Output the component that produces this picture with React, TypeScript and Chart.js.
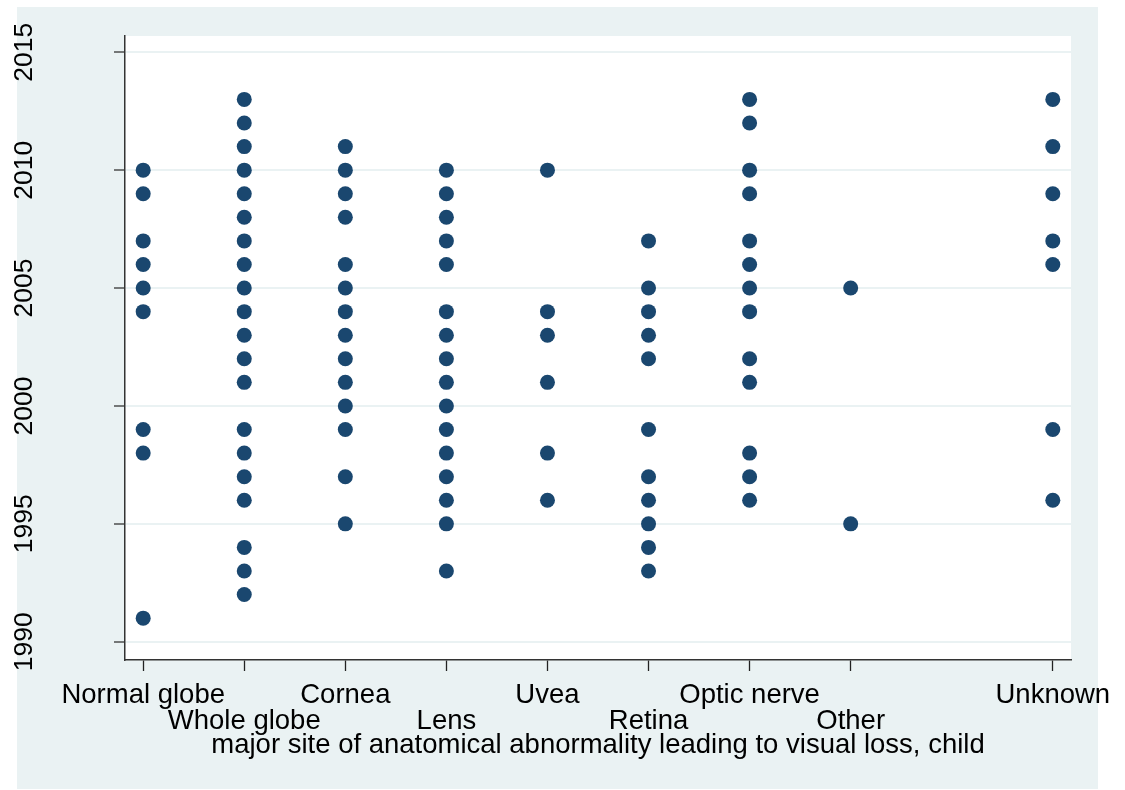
import React, { useEffect, useRef } from "react";
import { Chart, registerables } from "chart.js";

Chart.register(...registerables);

// ---- data ----
const categories = [
  "Normal globe",
  "Whole globe",
  "Cornea",
  "Lens",
  "Uvea",
  "Retina",
  "Optic nerve",
  "Other",
  "",
  "Unknown",
];
const xTickValues = [1, 2, 3, 4, 5, 6, 7, 8, 10];
const yTickValues = [1990, 1995, 2000, 2005, 2010, 2015];

const normalGlobe = [2010, 2009, 2007, 2006, 2005, 2004, 1999, 1998, 1991];
const wholeGlobe = [2013, 2012, 2011, 2010, 2009, 2008, 2007, 2006, 2005, 2004, 2003, 2002, 2001, 1999, 1998, 1997, 1996, 1994, 1993, 1992];
const cornea = [2011, 2010, 2009, 2008, 2006, 2005, 2004, 2003, 2002, 2001, 2000, 1999, 1997, 1995];
const lens = [2010, 2009, 2008, 2007, 2006, 2004, 2003, 2002, 2001, 2000, 1999, 1998, 1997, 1996, 1995, 1993];
const uvea = [2010, 2004, 2003, 2001, 1998, 1996];
const retina = [2007, 2005, 2004, 2003, 2002, 1999, 1997, 1996, 1995, 1994, 1993];
const opticNerve = [2013, 2012, 2010, 2009, 2007, 2006, 2005, 2004, 2002, 2001, 1998, 1997, 1996];
const other = [2005, 1995];
const unknown = [2013, 2011, 2009, 2007, 2006, 1999, 1996];

const siteCodes = [1, 2, 3, 4, 5, 6, 7, 8, 10];
const siteYears = [normalGlobe, wholeGlobe, cornea, lens, uvea, retina, opticNerve, other, unknown];

const xTitle = "major site of anatomical abnormality leading to visual loss, child";

const FONT = "'Liberation Sans', Arial, Helvetica, sans-serif";

const bgPlugin = {
  id: "stataBg",
  beforeDraw(chart: any) {
    const { ctx, chartArea, width, height } = chart;
    ctx.save();
    ctx.fillStyle = "#ffffff";
    ctx.fillRect(0, 0, width, height);
    ctx.fillStyle = "#eaf2f3";
    ctx.fillRect(17, 7, 1081, 782);
    ctx.fillStyle = "#ffffff";
    ctx.fillRect(chartArea.left, chartArea.top, chartArea.right - chartArea.left, chartArea.bottom - chartArea.top);
    ctx.restore();
  },
};

export default function App() {
  const ref = useRef<HTMLCanvasElement | null>(null);

  useEffect(() => {
    if (!ref.current) return;
    const points = siteCodes.flatMap((code, i) => siteYears[i].map((y) => ({ x: code, y })));
    const chart = new Chart(ref.current, {
      type: "scatter",
      data: {
        datasets: [
          {
            data: points,
            backgroundColor: "#1a476f",
            borderColor: "#1a476f",
            borderWidth: 0,
            pointRadius: 7.5,
            pointHoverRadius: 7.5,
          },
        ],
      },
      plugins: [bgPlugin],
      options: {
        animation: false,
        responsive: false,
        devicePixelRatio: 1,
        events: [],
        layout: { padding: { left: 0, top: 36, right: 54, bottom: 0 } },
        plugins: { legend: { display: false }, tooltip: { enabled: false } },
        scales: {
          x: {
            type: "linear",
            min: 0.82,
            max: 10.18,
            afterBuildTicks: (s: any) => {
              s.ticks = xTickValues.map((v) => ({ value: v }));
            },
            afterFit: (s: any) => {
              s.height = 130;
              s.paddingLeft = 0;
              s.paddingRight = 0;
            },
            ticks: {
              autoSkip: false,
              maxRotation: 0,
              minRotation: 0,
              padding: 11,
              color: "#000000",
              font: { family: FONT, size: 27.5, lineHeight: 26 / 27.5 },
              callback: (v: any, i: number) => {
                const label = categories[Math.round(Number(v)) - 1];
                return i % 2 === 1 ? ["", label] : label;
              },
            },
            grid: {
              drawOnChartArea: false,
              drawTicks: true,
              tickLength: 11,
              tickColor: "#222222",
              tickWidth: 1.3,
            },
            border: { display: true, color: "#333333", width: 1.5 },
            title: {
              display: true,
              text: xTitle,
              color: "#000000",
              font: { family: FONT, size: 27.5, lineHeight: 26 / 27.5 },
              padding: { top: 0, bottom: 32 },
            },
          },
          y: {
            type: "linear",
            min: 1989.225,
            max: 2015.69,
            afterBuildTicks: (s: any) => {
              s.ticks = yTickValues.map((v) => ({ value: v }));
            },
            afterFit: (s: any) => {
              s.width = 125;
              s.paddingTop = 0;
              s.paddingBottom = 0;
            },
            ticks: {
              minRotation: 90,
              maxRotation: 90,
              crossAlign: "center",
              padding: 60,
              color: "#000000",
              font: { family: FONT, size: 26.5 },
              callback: (v: any) => String(v),
            },
            grid: {
              color: "#eaf2f3",
              lineWidth: 2,
              drawTicks: true,
              tickLength: 11,
              tickColor: "#333333",
              tickWidth: 1.3,
            },
            border: { display: true, color: "#333333", width: 1.5 },
          },
        },
      },
    } as any);
    return () => chart.destroy();
  }, []);

  return (
    <div style={{ position: "absolute", left: 0, top: 0, width: 1125, height: 790 }}>
      <canvas ref={ref} width={1125} height={790} style={{ width: 1125, height: 790, display: "block" }} />
    </div>
  );
}
